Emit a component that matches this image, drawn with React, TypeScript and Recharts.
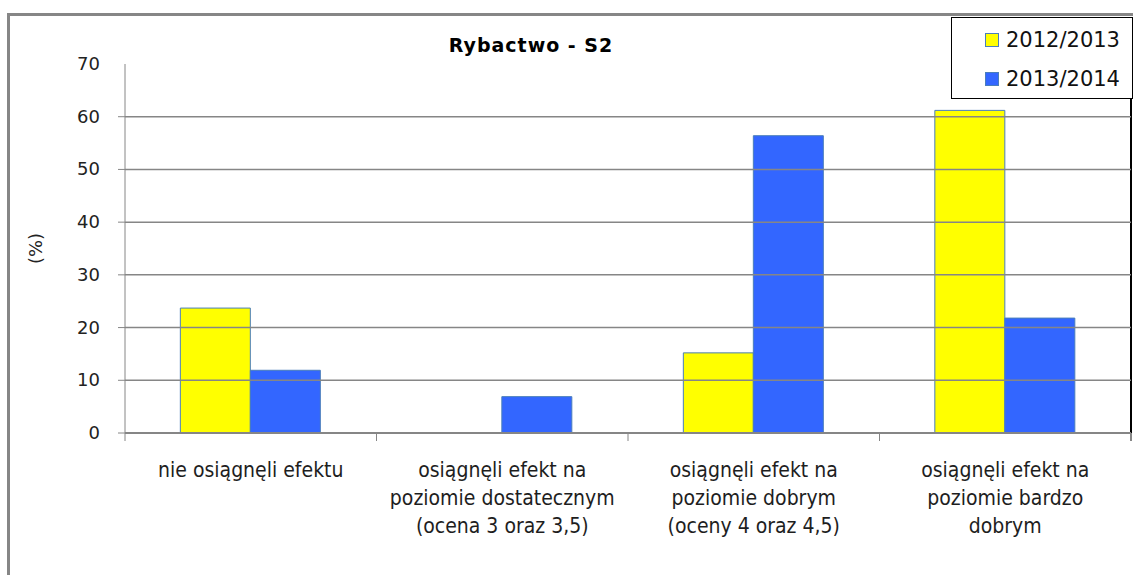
import React from 'react';
import { BarChart, Bar, XAxis, YAxis, ReferenceLine, Legend } from 'recharts';

const categories = [
  'nie osiągnęli efektu',
  'osiągnęli efekt na\npoziomie dostatecznym\n(ocena 3 oraz 3,5)',
  'osiągnęli efekt na\npoziomie dobrym\n(oceny 4 oraz 4,5)',
  'osiągnęli efekt na\npoziomie bardzo\ndobrym',
];
const values2012 = [23.7, 0, 15.2, 61.2];
const values2013 = [11.9, 6.9, 56.4, 21.8];
const yTicks = [0, 10, 20, 30, 40, 50, 60, 70];
const gridValues = [10, 20, 30, 40, 50, 60];
const seriesNames = ['2012/2013', '2013/2014'];

const data = categories.map((c, i) => ({
  name: c,
  s2012: values2012[i],
  s2013: values2013[i],
}));

const GRAY = '#868686';
const TEXT = "'DejaVu Sans Condensed', 'DejaVu Sans', sans-serif";

// eslint-disable-next-line @typescript-eslint/no-explicit-any
function XTick(props: any) {
  const { x, y, payload, index, visibleTicksCount, width } = props;
  const bw = width && visibleTicksCount ? width / visibleTicksCount : 251.5;
  const lines = String(payload.value).split('\n');
  return (
    <g>
      <line x1={x - bw / 2} y1={y} x2={x - bw / 2} y2={y + 8} stroke={GRAY} />
      {index === visibleTicksCount - 1 && (
        <line x1={x + bw / 2} y1={y} x2={x + bw / 2} y2={y + 8} stroke={GRAY} strokeWidth={2} />
      )}
      <text x={x} y={y} textAnchor="middle" fontFamily={TEXT} fontSize={21} fill="#1e1e1e">
        {lines.map((l, i) => (
          <tspan key={i} x={x} dy={i === 0 ? 44 : 28}>{l}</tspan>
        ))}
      </text>
    </g>
  );
}

// eslint-disable-next-line @typescript-eslint/no-explicit-any
function YTick(props: any) {
  const { x, y, payload } = props;
  return (
    <g>
      {payload.value < 70 && <line x1={x - 7} y1={y} x2={x} y2={y} stroke={GRAY} />}
      <text x={x - 25} y={y} dy={6} textAnchor="end" fontFamily="'DejaVu Sans', sans-serif" fontSize={18} fill="#222">
        {payload.value}
      </text>
    </g>
  );
}

function LegendBox() {
  const colors = ['#ffff00', '#3366ff'];
  return (
    <div style={{ width: 182, height: 82, border: '1px solid #000', background: '#fff', position: 'relative', boxSizing: 'border-box' }}>
      {seriesNames.map((n, i) => (
        <div key={n} style={{ position: 'absolute', left: 33, top: 10 + i * 39, display: 'flex', alignItems: 'center', height: 24 }}>
          <span style={{ display: 'inline-block', width: 12, height: 12, background: colors[i], border: '1px solid #4a7ebb', marginRight: 7 }} />
          <span style={{ fontFamily: "'DejaVu Sans', sans-serif", fontSize: 21, color: '#111', lineHeight: '24px' }}>{n}</span>
        </div>
      ))}
    </div>
  );
}

export default function App() {
  return (
    <div style={{ position: 'absolute', left: 0, top: 0, width: 1133, height: 575, background: '#fff', overflow: 'hidden' }}>
      {/* outer frame */}
      <div style={{ position: 'absolute', left: 7, top: 13, width: 1140, height: 600, borderLeft: `3px solid ${GRAY}`, borderTop: `3px solid ${GRAY}`, boxSizing: 'border-box' }} />
      <div style={{ position: 'absolute', left: 1130, top: 99, width: 2, height: 334, background: '#000' }} />
      <div style={{ position: 'absolute', left: 431, top: 34, width: 200, textAlign: 'center', fontFamily: "'DejaVu Sans', sans-serif", fontWeight: 'bold', fontSize: 19, lineHeight: '22px', letterSpacing: 1, color: '#000' }}>
        Rybactwo - S2
      </div>
      <BarChart
        width={1133}
        height={575}
        data={data}
        margin={{ top: 64, right: 2, bottom: 0, left: 0 }}
        barCategoryGap="22%"
        barGap={0}
        style={{ position: 'absolute', left: 0, top: 0 }}
      >
        {gridValues.map(v => (
          <ReferenceLine key={v} y={v} stroke={GRAY} strokeWidth={1.5} ifOverflow="visible" />
        ))}
        <XAxis
          dataKey="name"
          height={142}
          interval={0}
          tickLine={false}
          tickSize={0}
          tickMargin={0}
          axisLine={{ stroke: GRAY, strokeWidth: 2 }}
          tick={<XTick />}
        />
        <YAxis
          width={125}
          domain={[0, 70]}
          ticks={yTicks}
          tickLine={false}
          tickSize={0}
          tickMargin={0}
          axisLine={{ stroke: GRAY }}
          tick={<YTick />}
          label={{
            // eslint-disable-next-line @typescript-eslint/no-explicit-any
            content: ({ viewBox }: any) => {
              const cy = viewBox.y + viewBox.height / 2;
              return (
                <text x={36} y={cy} transform={`rotate(-90 36 ${cy})`} textAnchor="middle" dy={6}
                  fontFamily="'DejaVu Sans', sans-serif" fontSize={18} fill="#222">(%)</text>
              );
            },
          }}
        />
        <Legend
          layout="horizontal"
          verticalAlign="middle"
          align="center"
          content={<LegendBox />}
          wrapperStyle={{ position: 'absolute', left: 951, top: 17, width: 182, height: 82 }}
        />
        <Bar dataKey="s2012" name={seriesNames[0]} fill="#ffff00" stroke="#4a7ebb" strokeWidth={1} isAnimationActive={false} />
        <Bar dataKey="s2013" name={seriesNames[1]} fill="#3366ff" stroke="#4a7ebb" strokeWidth={1} isAnimationActive={false} />
      </BarChart>
    </div>
  );
}
